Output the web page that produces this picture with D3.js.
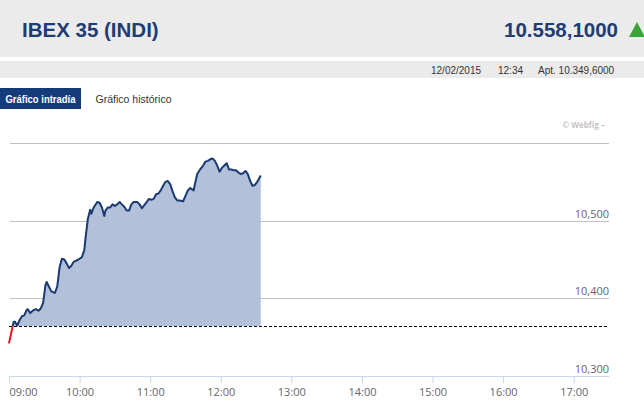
<!DOCTYPE html>
<html><head><meta charset="utf-8">
<script src="https://cdn.jsdelivr.net/npm/d3@7"></script>
<style>html,body{margin:0;padding:0;background:#fff;overflow:hidden}</style>
</head><body>
<script>
const title = "IBEX 35 (INDI)";
const lastValue = "10.558,1000";
const infoDate = "12/02/2015";
const infoTime = "12:34";
const infoOpen = "Apt. 10.349,6000";
const tabs = ["Gráfico intradía", "Gráfico histórico"];
const previousClose = 10364;
const yTicks = [10300, 10400, 10500];
const yTickLabels = ["10,300", "10,400", "10,500"];
const xTickLabels = ["09:00","10:00","11:00","12:00","13:00","14:00","15:00","16:00","17:00"];
const times = ["09:00","09:04","09:05","09:07","09:09","09:11","09:13","09:15","09:16","09:18",
"09:21","09:23","09:25","09:27","09:29","09:31","09:32","09:34","09:36","09:39",
"09:41","09:43","09:45","09:47","09:49","09:51","09:53","09:55","09:59","10:02",
"10:04","10:05","10:07","10:09","10:10","10:12","10:15","10:17","10:19","10:21",
"10:22","10:24","10:26","10:28","10:30","10:32","10:34","10:36","10:38","10:40",
"10:42","10:44","10:46","10:49","10:51","10:53","10:55","10:57","10:59","11:01",
"11:03","11:05","11:07","11:09","11:11","11:13","11:15","11:17","11:19","11:21",
"11:23","11:25","11:28","11:30","11:32","11:34","11:37","11:38","11:40","11:42",
"11:45","11:47","11:49","11:51","11:53","11:55","11:57","11:59","12:01","12:03",
"12:05","12:07","12:09","12:11","12:13","12:15","12:17","12:19","12:21","12:23",
"12:25","12:27","12:29","12:31","12:34"];
const values = [10342,10370,10370,10365,10372,10377,10378,10385,10386,10381,
10385,10386,10384,10387,10394,10417,10421,10415,10409,10407,
10415,10440,10451,10450,10445,10439,10442,10447,10450,10453,
10462,10477,10502,10514,10509,10517,10524,10523,10517,10506,
10513,10517,10517,10521,10519,10521,10524,10521,10518,10513,
10513,10521,10524,10524,10521,10516,10520,10524,10528,10527,
10528,10534,10535,10539,10545,10550,10551,10547,10538,10530,
10526,10526,10525,10532,10539,10542,10539,10547,10560,10565,
10571,10576,10577,10579,10580,10577,10571,10563,10568,10571,
10574,10566,10566,10565,10565,10562,10560,10561,10564,10560,
10551,10545,10546,10550,10558.1];

const W = 644, H = 403;
const parse = s => { const [h,m] = s.split(":").map(Number); return new Date(2015,1,12,h,m); };
const data = times.map((t,i) => ({t: parse(t), v: values[i]}));

const svg = d3.select("body").append("svg").attr("width", W).attr("height", H)
  .style("font-family", "'Liberation Sans', Arial, sans-serif");

// header
svg.append("rect").attr("x",0).attr("y",0).attr("width",W).attr("height",57).attr("fill","#ebebeb");
svg.append("text").attr("x",22).attr("y",37).attr("font-size",20.5).attr("font-weight","bold")
  .attr("fill","#1f3c73").text(title);
svg.append("text").attr("x",618).attr("y",37).attr("text-anchor","end").attr("font-size",20.5)
  .attr("font-weight","bold").attr("fill","#1f3c73").text(lastValue);
svg.append("path").attr("d","M629,37 L637,22 L645,37 Z").attr("fill","#3aa335");

svg.append("rect").attr("x",0).attr("y",61).attr("width",W).attr("height",17).attr("fill","#ebebeb");
const info = svg.append("g").attr("font-size",10).attr("fill","#333");
info.append("text").attr("x",431).attr("y",73.5).text(infoDate);
info.append("text").attr("x",498).attr("y",73.5).text(infoTime);
info.append("text").attr("x",538).attr("y",73.5).text(infoOpen);

// tabs
svg.append("rect").attr("x",0).attr("y",88).attr("width",81).attr("height",21).attr("fill","#153c7a");
svg.append("text").attr("x",5.5).attr("y",102.5).attr("font-size",10.5).attr("font-weight","bold")
  .attr("textLength",70).attr("lengthAdjust","spacingAndGlyphs")
  .attr("fill","#fff").text(tabs[0]);
svg.append("text").attr("x",95.5).attr("y",102.5).attr("font-size",10.5).attr("fill","#333")
  .attr("textLength",76).attr("lengthAdjust","spacingAndGlyphs").text(tabs[1]);

// chart
const x = d3.scaleTime().domain([parse("09:00"), parse("17:30")]).range([9, 609]);
const y = d3.scaleLinear().domain([10300, 10600]).range([376, 143]);

svg.append("text").attr("x",605).attr("y",128).attr("text-anchor","end")
  .attr("font-family","'Open Sans', sans-serif").attr("font-size",8).attr("font-weight","bold")
  .attr("fill","#c4c4c4").text("© Webfig –");

const grid = svg.append("g");
[10400, 10500, 10600].forEach(v => {
  grid.append("line").attr("x1",10).attr("x2",609).attr("y1",Math.round(y(v))+0.5).attr("y2",Math.round(y(v))+0.5)
    .attr("stroke","#c0c0c0").attr("stroke-width",1);
});

// y labels
const yl = svg.append("g").attr("font-family","'Open Sans', sans-serif").attr("font-size",11).attr("fill","#666");
yTicks.forEach((v,i) => {
  yl.append("text").attr("x",609).attr("y",y(v)-3).attr("text-anchor","end").text(yTickLabels[i]);
});

// x axis
const xAxisG = svg.append("g").attr("transform",`translate(0,${Math.round(y(10300))+0.5})`);
const tickDates = xTickLabels.map(parse);
const xAxis = d3.axisBottom(x).tickValues(tickDates).tickFormat(d3.timeFormat("%H:%M")).tickSize(7).tickSizeOuter(0);
xAxisG.call(xAxis);
xAxisG.select(".domain").attr("stroke","#ccd6eb").attr("d","M9,0H609");
xAxisG.selectAll(".tick line").attr("stroke","#ccd6eb");
xAxisG.selectAll(".tick text").attr("font-family","'Open Sans', sans-serif").attr("font-size",11)
  .attr("fill","#666").attr("dy","0.9em")
  .each(function(d,i){ if(i===0) d3.select(this).attr("text-anchor","start").attr("x",0); });

const by = y(previousClose);
const defs = svg.append("defs");
defs.append("clipPath").attr("id","above").append("rect").attr("x",0).attr("y",0).attr("width",W).attr("height",by);
defs.append("clipPath").attr("id","below").append("rect").attr("x",0).attr("y",by).attr("width",W).attr("height",H-by);

const area = d3.area().x(d => x(d.t)).y0(by).y1(d => y(d.v));
svg.append("path").datum(data).attr("d",area).attr("fill","#b2c0d9").attr("clip-path","url(#above)");

svg.append("line").attr("x1",9).attr("x2",609).attr("y1",Math.round(by)+0.5).attr("y2",Math.round(by)+0.5)
  .attr("stroke","#000").attr("stroke-width",1).attr("stroke-dasharray","3,2");

const line = d3.line().x(d => x(d.t)).y(d => y(d.v));
svg.append("path").datum(data).attr("d",line).attr("fill","none").attr("stroke","#1b3a72")
  .attr("stroke-width",2).attr("stroke-linejoin","round").attr("clip-path","url(#above)");
svg.append("path").datum(data).attr("d",line).attr("fill","none").attr("stroke","#e8141c")
  .attr("stroke-width",2).attr("stroke-linejoin","round").attr("clip-path","url(#below)");
</script>
</body></html>
